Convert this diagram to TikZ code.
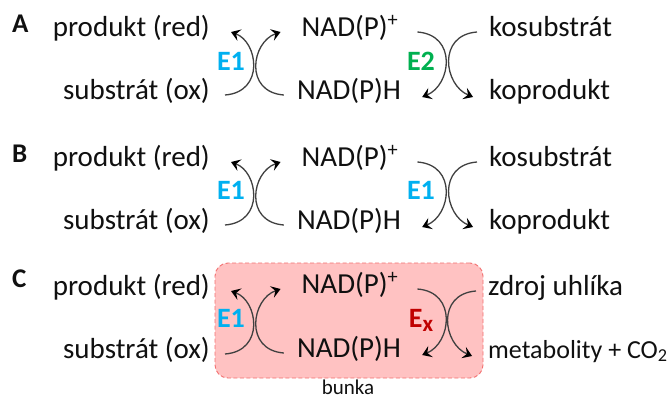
\documentclass[tikz,border=0pt]{standalone}
\usepackage{fontspec}
\setmainfont{Carlito}
\usetikzlibrary{arrows.meta,calc}
\definecolor{eblue}{HTML}{00B0F0}
\definecolor{egreen}{HTML}{00B050}
\definecolor{ered}{HTML}{C00000}
\definecolor{cellfill}{HTML}{FFC2C2}
\definecolor{celledge}{HTML}{F26F6F}
\definecolor{curvegray}{HTML}{404040}
\definecolor{ink}{HTML}{101010}

\begin{document}
\begin{tikzpicture}[x=1pt,y=-1pt,
  txt/.style={font=\fontsize{29}{34}\selectfont, inner sep=0pt, text=ink},
  smalltxt/.style={font=\fontsize{26}{30}\selectfont, inner sep=0pt, text=ink},
  panel/.style={font=\bfseries\fontsize{27}{30}\selectfont, inner sep=0pt, anchor=base west, text=ink},
  enz/.style={font=\bfseries\fontsize{28}{32}\selectfont, inner sep=0pt, anchor=base},
  rxn/.style={draw=curvegray, line width=1.3pt,
    -{Stealth[length=9pt,width=12pt,inset=3.5pt,color=black]}},
  cellbox/.style={draw=celledge, fill=cellfill, line width=0.9pt,
    dash pattern=on 4pt off 2.5pt, rounded corners=13pt, inner sep=0pt},
]
\useasboundingbox (0,0) rectangle (671,399);

% ---- cell compartment (panel C) ----
\node[cellbox, minimum width=268pt, minimum height=115pt] (cell) at (349,320.5) {};
\node[font=\fontsize{21}{24}\selectfont, inner sep=0pt, anchor=base, text=ink] (bunka) at (348,394) {bunka};

% ---- panel A ----
\node[panel] (labA) at (12,32) {A};
\node[txt, anchor=base east] (pA) at (210,36) {produkt (red)};
\node[txt, anchor=base east] (sA) at (210,99) {substrát (ox)};
\node[txt, anchor=base] (nA) at (350,36) {NAD(P)\textsuperscript{+}};
\node[txt, anchor=base] (hA) at (349,99) {NAD(P)H};
\node[txt, anchor=base west] (kA) at (489,36) {kosubstrát};
\node[txt, anchor=base west] (kpA) at (489,99) {koprodukt};
\node[enz, text=eblue] (e1A) at (231,70) {E1};
\node[enz, text=egreen] (e2A) at (421,70) {E2};
\draw[rxn] ([shift={(15,-4)}]sA.base east) .. controls +(40,-3) and +(27,10) .. ([shift={(21,-4)}]pA.base east);
\draw[rxn] ([shift={(-13,-4)}]hA.base west) .. controls +(-40,-3) and +(-29,10) .. ([shift={(-21,-4)}]nA.base west);
\draw[rxn] ([shift={(19,-4)}]nA.base east) .. controls +(40,3) and +(29,-12) .. ([shift={(21,-2)}]hA.base east);
\draw[rxn] ([shift={(-12,-4)}]kA.base west) .. controls +(-40,3) and +(-29,-12) .. ([shift={(-16,-2)}]kpA.base west);

% ---- panel B ----
\node[panel] (labB) at (12,162) {B};
\node[txt, anchor=base east] (pB) at (210,166) {produkt (red)};
\node[txt, anchor=base east] (sB) at (210,229) {substrát (ox)};
\node[txt, anchor=base] (nB) at (350,166) {NAD(P)\textsuperscript{+}};
\node[txt, anchor=base] (hB) at (349,229) {NAD(P)H};
\node[txt, anchor=base west] (kB) at (489,166) {kosubstrát};
\node[txt, anchor=base west] (kpB) at (489,229) {koprodukt};
\node[enz, text=eblue] (e1B) at (231,199) {E1};
\node[enz, text=eblue] (e1Bb) at (421,199) {E1};
\draw[rxn] ([shift={(15,-4)}]sB.base east) .. controls +(40,-3) and +(27,10) .. ([shift={(21,-4)}]pB.base east);
\draw[rxn] ([shift={(-13,-4)}]hB.base west) .. controls +(-40,-3) and +(-29,10) .. ([shift={(-21,-4)}]nB.base west);
\draw[rxn] ([shift={(19,-4)}]nB.base east) .. controls +(40,3) and +(29,-12) .. ([shift={(21,-2)}]hB.base east);
\draw[rxn] ([shift={(-12,-4)}]kB.base west) .. controls +(-40,3) and +(-29,-12) .. ([shift={(-16,-2)}]kpB.base west);

% ---- panel C ----
\node[panel] (labC) at (12,287) {C};
\node[txt, anchor=base east] (pC) at (210,295) {produkt (red)};
\node[txt, anchor=base east] (sC) at (210,358) {substrát (ox)};
\node[txt, anchor=base] (nC) at (350,293) {NAD(P)\textsuperscript{+}};
\node[txt, anchor=base] (hC) at (349,357) {NAD(P)H};
\node[txt, anchor=base west] (zC) at (488,295) {zdroj uhlíka};
\node[smalltxt, anchor=base west] (mC) at (488,358) {metabolity + CO\textsubscript{2}};
\node[enz, text=eblue] (e1C) at (231,327) {E1};
\node[enz, text=ered] (exC) at (421,327) {E\raisebox{-4pt}{\fontsize{23}{23}\selectfont x}};
\draw[rxn] ([shift={(15,-4)}]sC.base east) .. controls +(40,-3) and +(27,10) .. ([shift={(21,-4)}]pC.base east);
\draw[rxn] ([shift={(-13,-4)}]hC.base west) .. controls +(-40,-3) and +(-29,10) .. ([shift={(-21,-4)}]nC.base west);
\draw[rxn] ([shift={(19,-4)}]nC.base east) .. controls +(40,3) and +(29,-12) .. ([shift={(21,-2)}]hC.base east);
\draw[rxn] ([shift={(-12,-4)}]zC.base west) .. controls +(-40,3) and +(-29,-12) .. ([shift={(-16,-2)}]mC.base west);
\end{tikzpicture}
\end{document}
